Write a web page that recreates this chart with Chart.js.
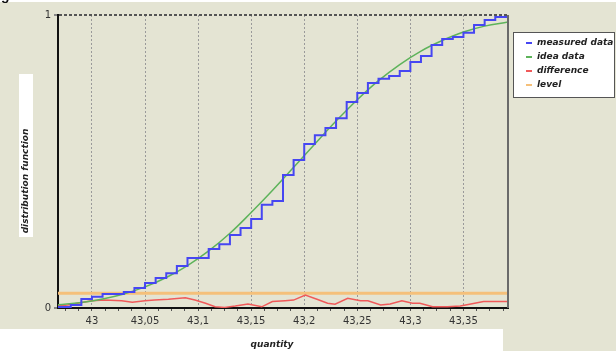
<!DOCTYPE html>
<html>
<head>
<meta charset="utf-8">
<script src="https://cdn.jsdelivr.net/npm/chart.js@4.4.0/dist/chart.umd.min.js"></script>
<style>
  body { margin: 0; background: #fff; }
  #wrap { width: 616px; height: 351px; }
</style>
</head>
<body>
<div id="wrap"><canvas id="grafica" width="616" height="351"></canvas></div>
<script>
// series names, as in the legend
var seriesNames = ['measured data', 'idea data', 'difference', 'level'];

// measured data (step function)
var measuredX = [42.968, 42.98, 42.99, 43.00, 43.01, 43.03, 43.04, 43.05, 43.06, 43.07, 43.08, 43.09,
  43.11, 43.12, 43.13, 43.14, 43.15, 43.16, 43.17, 43.18, 43.19, 43.20, 43.21, 43.22, 43.23, 43.24,
  43.25, 43.26, 43.27, 43.28, 43.29, 43.30, 43.31, 43.32, 43.33, 43.34, 43.35, 43.36, 43.37, 43.38, 43.392];
var measuredY = [0.003, 0.010, 0.031, 0.038, 0.048, 0.055, 0.068, 0.085, 0.102, 0.119, 0.143, 0.171,
  0.201, 0.218, 0.249, 0.273, 0.304, 0.352, 0.365, 0.454, 0.505, 0.560, 0.590, 0.614, 0.648, 0.703,
  0.734, 0.768, 0.782, 0.792, 0.809, 0.840, 0.860, 0.898, 0.918, 0.925, 0.939, 0.966, 0.983, 0.993, 1.0];

// idea data (smooth curve)
var idealX = [42.968, 42.99, 43.01, 43.03, 43.05, 43.07, 43.09, 43.11, 43.13, 43.15, 43.17, 43.19,
  43.21, 43.23, 43.25, 43.27, 43.29, 43.31, 43.33, 43.35, 43.37, 43.392];
var idealY = [0.011, 0.019, 0.031, 0.048, 0.072, 0.104, 0.145, 0.195, 0.255, 0.326, 0.401, 0.480,
  0.560, 0.638, 0.711, 0.776, 0.831, 0.877, 0.913, 0.942, 0.962, 0.976];

// difference
var diffX = [42.968, 42.977, 42.989, 43.000, 43.012, 43.028, 43.038, 43.050, 43.059, 43.072, 43.088,
  43.097, 43.107, 43.116, 43.125, 43.135, 43.147, 43.160, 43.170, 43.182, 43.190, 43.201, 43.212,
  43.222, 43.229, 43.241, 43.253, 43.260, 43.272, 43.281, 43.292, 43.302, 43.309, 43.321, 43.335,
  43.347, 43.357, 43.369, 43.392];
var diffY = [0.007, 0.010, 0.018, 0.025, 0.027, 0.025, 0.020, 0.025, 0.027, 0.030, 0.035,
  0.027, 0.016, 0.004, 0.002, 0.007, 0.014, 0.004, 0.022, 0.025, 0.027, 0.044, 0.030,
  0.016, 0.013, 0.033, 0.025, 0.025, 0.010, 0.014, 0.025, 0.016, 0.016, 0.004, 0.004,
  0.007, 0.014, 0.022, 0.022];

// level
var levelX = [42.968, 43.392];
var levelY = [0.05, 0.05];

// ticks
var xTicks = [43, 43.05, 43.1, 43.15, 43.2, 43.25, 43.3, 43.35];
var xTickLabels = ['43', '43,05', '43,1', '43,15', '43,2', '43,25', '43,3', '43,35'];
var yTicks = [0, 1];
var yTickLabels = ['0', '1'];
var xTitle = 'quantity';
var yTitle = 'distribution function';

var beige = '#e4e4d3';
var colores = ['#4646f2', '#5db35a', '#f05a5a', '#f5c07a'];

function juntar(xs, ys) {
	return xs.map(function(x, i) { return {x: x, y: ys[i]}; });
}

function esMayor(v) {
	return xTicks.some(function(t) { return Math.abs(t - v) < 1e-6; });
}

// fondo, titulos de ejes, marco y leyenda
var decoracion = {
	id: 'decoracion',
	beforeDraw: function(chart) {
		var c = chart.ctx;
		c.save();
		c.fillStyle = '#ffffff';
		c.fillRect(0, 0, 616, 351);
		c.fillStyle = beige;
		c.fillRect(0, 2, 616, 327);
		c.fillRect(503, 329, 113, 22);
		c.fillStyle = '#111';
		c.font = 'bold 14px "Liberation Sans"';
		c.textBaseline = 'alphabetic';
		c.fillText('g', 1, 0);
		// caja blanca del titulo Y
		c.fillStyle = '#ffffff';
		c.fillRect(19, 74, 14, 163);
		c.translate(26, 181);
		c.rotate(-Math.PI / 2);
		c.fillStyle = '#222';
		c.font = 'italic bold 9px "DejaVu Sans"';
		c.textAlign = 'center';
		c.textBaseline = 'middle';
		c.fillText(yTitle, 0, 0);
		c.restore();

		c.save();
		c.fillStyle = '#222';
		c.font = 'italic bold 9px "DejaVu Sans"';
		c.textAlign = 'center';
		c.textBaseline = 'middle';
		c.fillText(xTitle, 272, 345);
		c.restore();
	},
	afterDraw: function(chart) {
		var c = chart.ctx, a = chart.chartArea;
		c.save();
		// borde derecho
		c.strokeStyle = '#6a6a6a';
		c.lineWidth = 2;
		c.beginPath();
		c.moveTo(a.right, a.top);
		c.lineTo(a.right, a.bottom);
		c.stroke();
		// leyenda
		c.fillStyle = '#ffffff';
		c.fillRect(513, 32, 102, 66);
		c.strokeStyle = '#555';
		c.lineWidth = 1;
		c.strokeRect(513.5, 32.5, 101, 65);
		c.font = 'italic bold 9px "DejaVu Sans"';
		c.textBaseline = 'middle';
		chart.data.datasets.forEach(function(ds, i) {
			var y = 43 + i * 14;
			c.strokeStyle = ds.borderColor;
			c.lineWidth = 2;
			c.beginPath();
			c.moveTo(526, y);
			c.lineTo(532, y);
			c.stroke();
			c.fillStyle = '#222';
			c.fillText(ds.label, 537, y);
		});
		c.restore();
	}
};

var ctx = document.getElementById('grafica').getContext('2d');
var chart = new Chart(ctx, {
	type: 'line',
	data: {
		datasets: [{
			label: seriesNames[0],
			data: juntar(measuredX, measuredY),
			borderColor: colores[0],
			borderWidth: 2,
			stepped: true,
			pointRadius: 0
		}, {
			label: seriesNames[1],
			data: juntar(idealX, idealY),
			borderColor: colores[1],
			borderWidth: 1.5,
			tension: 0.4,
			pointRadius: 0
		}, {
			label: seriesNames[2],
			data: juntar(diffX, diffY),
			borderColor: colores[2],
			borderWidth: 1.5,
			pointRadius: 0
		}, {
			label: seriesNames[3],
			data: juntar(levelX, levelY),
			borderColor: colores[3],
			borderWidth: 3,
			pointRadius: 0
		}]
	},
	options: {
		responsive: false,
		animation: false,
		layout: { padding: { left: 0, right: 108, top: 15, bottom: 0 } },
		plugins: {
			legend: { display: false },
			tooltip: { enabled: false }
		},
		scales: {
			x: {
				type: 'linear',
				min: 42.968,
				max: 43.392,
				afterBuildTicks: function(s) {
					var paso = (xTicks[1] - xTicks[0]) / 4;
					var vals = [];
					for (var v = xTicks[0] - 2 * paso; v <= xTicks[xTicks.length - 1] + 3 * paso + 1e-9; v += paso) {
						vals.push(+v.toFixed(4));
					}
					s.ticks = vals.map(function(v) { return {value: v}; });
				},
				afterFit: function(s) {
					s.height = 43;
					s.paddingLeft = 0;
					s.paddingRight = 0;
				},
				ticks: {
					autoSkip: false,
					maxRotation: 0,
					padding: 4,
					color: '#333',
					font: { family: 'DejaVu Sans', size: 10 },
					callback: function(v) {
						for (var i = 0; i < xTicks.length; i++) {
							if (Math.abs(xTicks[i] - v) < 1e-6) return xTickLabels[i];
						}
						return '';
					}
				},
				grid: {
					color: function(c) { return c.tick && esMayor(c.tick.value) ? '#9a9a9a' : 'rgba(0,0,0,0)'; },
					lineWidth: 1,
					tickColor: '#555',
					tickLength: 3
				},
				border: { color: '#111', width: 2, dash: [2, 2] }
			},
			y: {
				min: 0,
				max: 1,
				afterBuildTicks: function(s) {
					s.ticks = yTicks.map(function(v) { return {value: v}; });
				},
				afterFit: function(s) {
					s.width = 58;
					s.paddingTop = 0;
					s.paddingBottom = 0;
				},
				ticks: {
					padding: 3,
					color: '#333',
					font: { family: 'DejaVu Sans', size: 10 },
					callback: function(v, i) { return yTickLabels[i]; }
				},
				grid: {
					color: function(c) { return c.tick && c.tick.value === 1 ? '#555' : '#222'; },
					lineWidth: 2,
					tickColor: '#888',
					tickLength: 4
				},
				border: { color: '#111', width: 2, dash: [3, 2] }
			}
		}
	},
	plugins: [decoracion]
});
</script>
</body>
</html>
